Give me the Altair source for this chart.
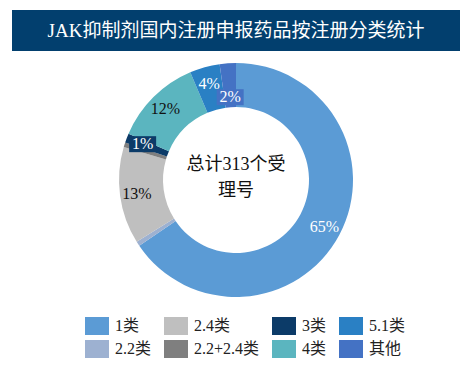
import altair as alt
import pandas as pd

# ---- data ----
categories = ["1类", "2.2类", "2.4类", "2.2+2.4类", "3类", "4类", "5.1类", "其他"]
counts = [205, 2, 42, 2, 4, 38, 13, 7]
legend_order = ["1类", "2.4类", "3类", "5.1类", "2.2类", "2.2+2.4类", "4类", "其他"]
palette = {
    "1类": "#5B9BD5",
    "2.2类": "#9DB1D1",
    "2.4类": "#BFBFBF",
    "2.2+2.4类": "#7F7F7F",
    "3类": "#0C3B68",
    "4类": "#5BB5BF",
    "5.1类": "#2A80C4",
    "其他": "#4472C4",
}
title_text = "JAK抑制剂国内注册申报药品按注册分类统计"
center_lines = ["总计313个受", "理号"]
white_label_cats = ["1类", "3类", "5.1类", "其他"]
boxed_label_cats = ["3类", "其他"]

FONT = "Liberation Serif, 'Noto Sans CJK SC', serif"
CX, CY = 228, 172
R_OUT, R_IN = 117, 73

df = pd.DataFrame({"cat": categories, "count": counts, "order": list(range(len(categories)))})

color_enc = alt.Color(
    "cat:N",
    scale=alt.Scale(domain=legend_order, range=[palette[c] for c in legend_order]),
    legend=alt.Legend(
        orient="none", legendX=77, legendY=306, columns=4, direction="horizontal",
        title=None,
        symbolType="M-1,-0.75H1V0.75H-1Z", symbolSize=576, symbolStrokeWidth=0,
        symbolOpacity=1,
        labelFont=FONT, labelFontSize=16, labelColor="#222222",
        columnPadding=12, rowPadding=2, labelOffset=6, padding=0,
    ),
)

base = alt.Chart(df)

arcs = base.mark_arc(outerRadius=R_OUT, innerRadius=R_IN).encode(
    theta=alt.Theta("count:Q", stack=True),
    order=alt.Order("order:Q"),
    color=color_enc,
    x=alt.value(CX),
    y=alt.value(CY),
)

pos = base.transform_joinaggregate(total="sum(count)").transform_window(
    cum="sum(count)", sort=[alt.SortField("order")], frame=[None, 0]
).transform_calculate(
    ang="2*PI*(datum.cum - datum.count/2)/datum.total",
    r="datum.cat == '其他' ? 83 : 100",
).transform_calculate(
    px=f"{CX} + datum.r*sin(datum.ang)",
    py=f"{CY} - datum.r*cos(datum.ang)",
    pct="format(datum.count/datum.total, '.0%')",
).transform_filter("datum.count > 3")

boxes = pos.transform_filter(
    alt.FieldOneOfPredicate(field="cat", oneOf=boxed_label_cats)
).transform_calculate(
    bx1="datum.px - 13.5", bx2="datum.px + 13.5",
    by1="datum.py - 8", by2="datum.py + 8",
).mark_rect().encode(
    x=alt.X("bx1:Q", scale=None), x2="bx2:Q",
    y=alt.Y("by1:Q", scale=None), y2="by2:Q",
    color=color_enc,
)

white_labels = pos.transform_filter(
    alt.FieldOneOfPredicate(field="cat", oneOf=white_label_cats)
).mark_text(font=FONT, fontSize=16, color="white", baseline="middle", align="center").encode(
    x=alt.X("px:Q", scale=None), y=alt.Y("py:Q", scale=None), text="pct:N"
)
black_labels = pos.transform_filter(
    ~alt.FieldOneOfPredicate(field="cat", oneOf=white_label_cats)
).mark_text(font=FONT, fontSize=16, color="#111111", baseline="middle", align="center").encode(
    x=alt.X("px:Q", scale=None), y=alt.Y("py:Q", scale=None), text="pct:N"
)

center_df = pd.DataFrame({"line": center_lines, "idx": list(range(len(center_lines)))})
center_text = alt.Chart(center_df).transform_calculate(
    py="157 + 26*datum.idx"
).mark_text(font=FONT, fontSize=18, color="#111111", baseline="middle", align="center").encode(
    x=alt.value(CX), y=alt.Y("py:Q", scale=None), text="line:N"
)

title_df = pd.DataFrame({"t": [title_text]})
title_bar = alt.Chart(title_df).mark_rect(color="#023F6E").encode(
    x=alt.value(4), x2=alt.value(452), y=alt.value(2), y2=alt.value(43)
)
title_label = alt.Chart(title_df).mark_text(
    font=FONT, fontSize=19, color="white", baseline="middle", align="center"
).encode(x=alt.value(228), y=alt.value(23), text="t:N")

chart = alt.layer(
    title_bar, title_label, arcs, boxes, white_labels, black_labels, center_text
).properties(
    width=456, height=363, autosize="none", padding=0, background="white"
).configure_view(stroke=None)

chart.save("out.html", embed_options={"renderer": "svg", "actions": False})
